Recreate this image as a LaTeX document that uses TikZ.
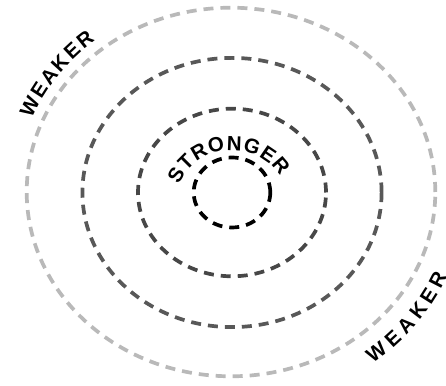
\documentclass[tikz,border=0pt]{standalone}
\usepackage{fontspec}
\setmainfont{Liberation Sans}
\definecolor{ringdark}{HTML}{474747}
\definecolor{ringgray}{HTML}{585858}
\definecolor{ringlight}{HTML}{B9B9B9}
\begin{document}
\begin{tikzpicture}[
    x=1pt, y=1pt,
    ring/.style={line width=3.7pt, dash pattern=on 10pt off 7pt},
    glyph/.style={font={\bfseries\fontsize{20.5}{20.5}\selectfont}, inner sep=0pt, anchor=center},
  ]
  \useasboundingbox (0,0) rectangle (446,385);
  \coordinate (c) at (232,192.5);
  \coordinate (s) at (231.7,177.1);
  \coordinate (w) at (231,193);
  \draw[ring, black] (c) ellipse[x radius=38.3, y radius=35];
  \draw[ring, ringdark] (c) ellipse[x radius=94, y radius=83.8];
  \draw[ring, ringgray] (c) ellipse[x radius=149.6, y radius=134.6];
  \draw[ring, ringlight] (w) ellipse[x radius=204.3, y radius=184.3];
  \foreach \ang/\ch [count=\i] in {149.4/S, 135.1/T, 120.3/R, 104.1/O, 87.8/N, 71.5/G, 55.7/E, 40.4/R}
    \path (s) ++(\ang:64.7) node[glyph, rotate=\ang-90] (strong\i) {\ch};
  \foreach \t/\ch [count=\i] in {155/W, 149.8/E, 145.1/A, 140.4/K, 135.7/E, 131.1/R} {
    \pgfmathsetmacro\rot{atan2(-202*cos(\t), 222*sin(\t))}
    \path (w) ++(\t:222 and 202) node[glyph, rotate=\rot] (weakup\i) {\ch};
  }
  \foreach \t/\ch [count=\i] in {-50.4/W, -44.8/E, -39.9/A, -34.8/K, -29.9/E, -25/R} {
    \pgfmathsetmacro\rot{atan2(208*cos(\t), -228*sin(\t))}
    \path (w) ++(\t:228 and 208) node[glyph, rotate=\rot] (weakdown\i) {\ch};
  }
\end{tikzpicture}
\end{document}
